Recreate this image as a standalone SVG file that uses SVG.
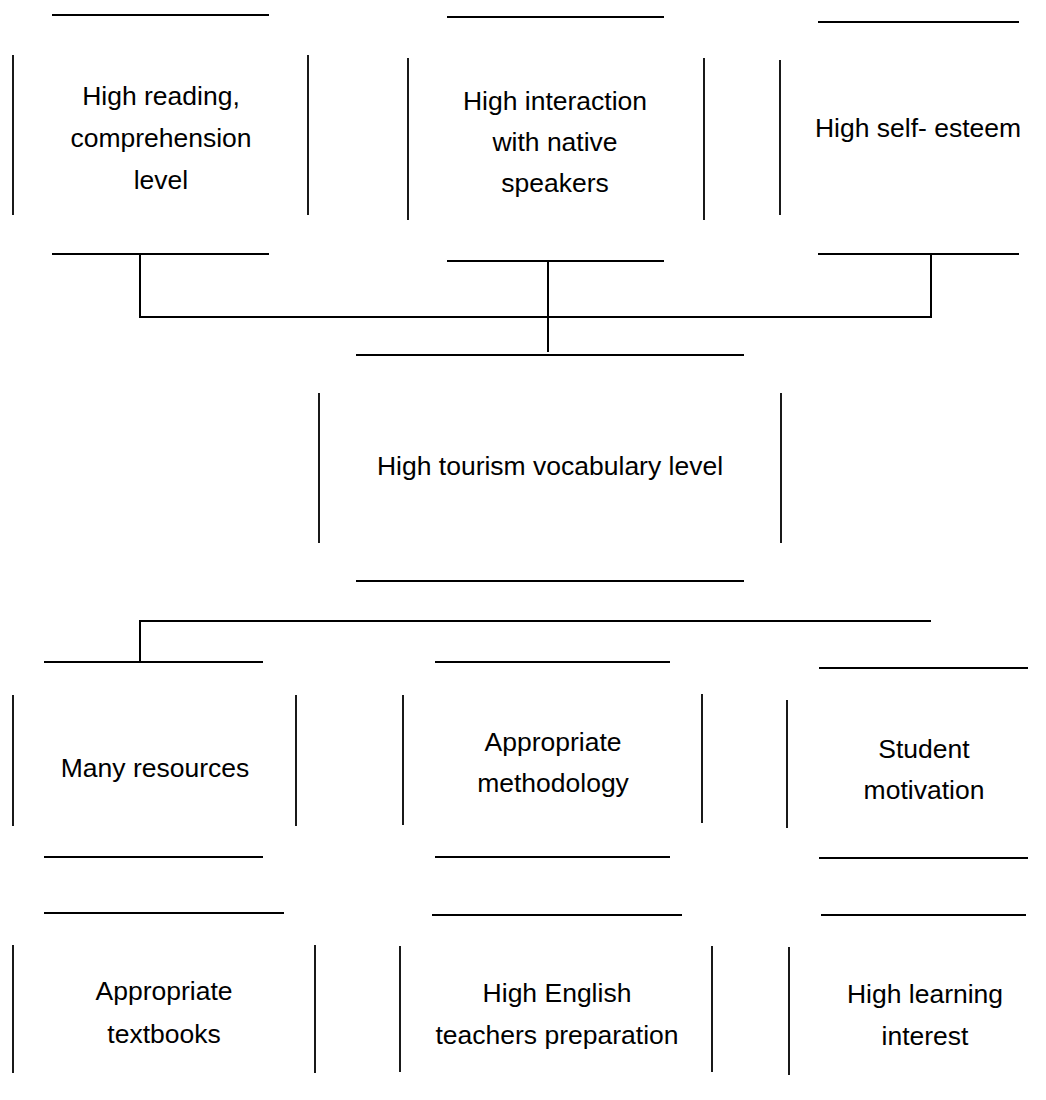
<svg xmlns="http://www.w3.org/2000/svg" width="1046" height="1100" viewBox="0 0 1046 1100">
<style>
  .edge { stroke: #000; stroke-width: 1.8; fill: none; }
  .conn { stroke: #000; stroke-width: 2; fill: none; }
  .lbl { font-family: "Liberation Sans", Arial, sans-serif; font-size: 26.5px; fill: #000; text-anchor: middle; }
</style>
<rect width="1046" height="1100" fill="#fff"/>

<g id="connectors">
  <polyline class="conn" points="140,254 140,317 931,317 931,254"/>
  <line class="conn" x1="548" y1="261" x2="548" y2="352"/>
  <polyline class="conn" points="140,662 140,621 931,621"/>
</g>

<g id="node-reading">
  <line class="edge" x1="52" y1="15" x2="269" y2="15"/>
  <line class="edge" x1="13" y1="55" x2="13" y2="215"/>
  <line class="edge" x1="308" y1="55" x2="308" y2="215"/>
  <line class="edge" x1="52" y1="254" x2="269" y2="254"/>
  <text class="lbl" x="161" y="105">High reading,</text>
  <text class="lbl" x="161" y="147">comprehension</text>
  <text class="lbl" x="161" y="189">level</text>
</g>

<g id="node-interaction">
  <line class="edge" x1="447" y1="17" x2="664" y2="17"/>
  <line class="edge" x1="408" y1="58" x2="408" y2="220"/>
  <line class="edge" x1="704" y1="58" x2="704" y2="220"/>
  <line class="edge" x1="447" y1="261" x2="664" y2="261"/>
  <text class="lbl" x="555" y="110">High interaction</text>
  <text class="lbl" x="555" y="151">with native</text>
  <text class="lbl" x="555" y="192">speakers</text>
</g>

<g id="node-esteem">
  <line class="edge" x1="818" y1="22" x2="1019" y2="22"/>
  <line class="edge" x1="780" y1="60" x2="780" y2="215"/>
  <line class="edge" x1="818" y1="254" x2="1019" y2="254"/>
  <text class="lbl" x="918" y="137">High self- esteem</text>
</g>

<g id="node-vocabulary">
  <line class="edge" x1="356" y1="355" x2="744" y2="355"/>
  <line class="edge" x1="319" y1="393" x2="319" y2="543"/>
  <line class="edge" x1="781" y1="393" x2="781" y2="543"/>
  <line class="edge" x1="356" y1="581" x2="744" y2="581"/>
  <text class="lbl" x="550" y="475">High tourism vocabulary level</text>
</g>

<g id="node-resources">
  <line class="edge" x1="44" y1="662" x2="263" y2="662"/>
  <line class="edge" x1="13" y1="695" x2="13" y2="826"/>
  <line class="edge" x1="296" y1="695" x2="296" y2="826"/>
  <line class="edge" x1="44" y1="857" x2="263" y2="857"/>
  <text class="lbl" x="155" y="777">Many resources</text>
</g>

<g id="node-methodology">
  <line class="edge" x1="435" y1="662" x2="670" y2="662"/>
  <line class="edge" x1="403" y1="695" x2="403" y2="825"/>
  <line class="edge" x1="702" y1="694" x2="702" y2="823"/>
  <line class="edge" x1="435" y1="857" x2="670" y2="857"/>
  <text class="lbl" x="553" y="751">Appropriate</text>
  <text class="lbl" x="553" y="792">methodology</text>
</g>

<g id="node-motivation">
  <line class="edge" x1="819" y1="668" x2="1028" y2="668"/>
  <line class="edge" x1="787" y1="700" x2="787" y2="828"/>
  <line class="edge" x1="819" y1="858" x2="1028" y2="858"/>
  <text class="lbl" x="924" y="758">Student</text>
  <text class="lbl" x="924" y="799">motivation</text>
</g>

<g id="node-textbooks">
  <line class="edge" x1="44" y1="913" x2="284" y2="913"/>
  <line class="edge" x1="13" y1="945" x2="13" y2="1073"/>
  <line class="edge" x1="315" y1="945" x2="315" y2="1073"/>
  <text class="lbl" x="164" y="1000">Appropriate</text>
  <text class="lbl" x="164" y="1043">textbooks</text>
</g>

<g id="node-teachers">
  <line class="edge" x1="432" y1="915" x2="682" y2="915"/>
  <line class="edge" x1="400" y1="946" x2="400" y2="1072"/>
  <line class="edge" x1="712" y1="946" x2="712" y2="1072"/>
  <text class="lbl" x="557" y="1002">High English</text>
  <text class="lbl" x="557" y="1044">teachers preparation</text>
</g>

<g id="node-interest">
  <line class="edge" x1="821" y1="915" x2="1026" y2="915"/>
  <line class="edge" x1="789" y1="947" x2="789" y2="1075"/>
  <text class="lbl" x="925" y="1003">High learning</text>
  <text class="lbl" x="925" y="1045">interest</text>
</g>
</svg>
